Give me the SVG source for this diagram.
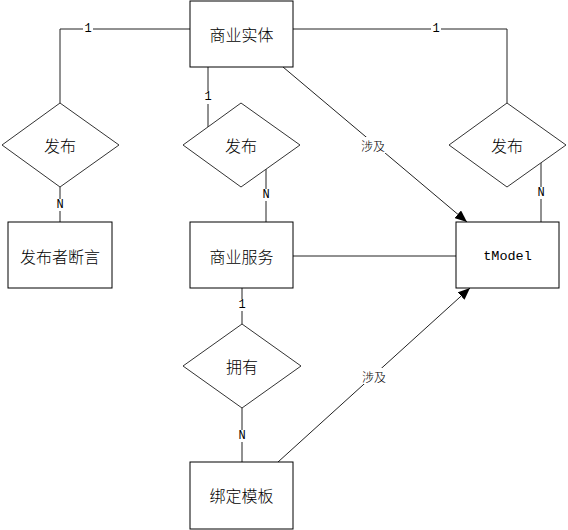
<svg xmlns="http://www.w3.org/2000/svg" width="568" height="530" viewBox="0 0 568 530">
<style>
.box{fill:#fff;stroke:#000;stroke-width:1}
.dia{fill:#fff;stroke:#333;stroke-width:1}
.ln{fill:none;stroke:#222;stroke-width:1}
.t{font-family:"Noto Sans CJK SC","Liberation Sans",sans-serif;font-size:16px;font-weight:300;text-anchor:middle;dominant-baseline:central;fill:#000}
.el{font-family:"Noto Sans CJK SC","Liberation Sans",sans-serif;font-size:12px;font-weight:300;text-anchor:middle;dominant-baseline:central;fill:#000}
.m{font-family:"Liberation Mono",monospace;font-size:12px;text-anchor:middle;dominant-baseline:central;fill:#000}
.bg{fill:#fff}
</style>
<defs>
<marker id="arr" markerWidth="12" markerHeight="10" refX="12" refY="5" orient="auto" markerUnits="userSpaceOnUse">
<path d="M0,0 L12,5 L0,10 z" fill="#000"/>
</marker>
</defs>
<rect width="568" height="530" fill="#fff"/>
<g id="connectors">
<polyline class="ln" points="190,29 60,29 60,103"/>
<rect class="bg" x="83" y="23" width="10" height="12"/>
<text class="m" x="88" y="29">1</text>
<polyline class="ln" points="293,29 507,29 507,103"/>
<rect class="bg" x="431" y="23" width="10" height="12"/>
<text class="m" x="436" y="29">1</text>
<line class="ln" x1="208" y1="67" x2="208" y2="127"/>
<rect class="bg" x="203" y="91" width="10" height="13"/>
<text class="m" x="208" y="97">1</text>
<line class="ln" x1="266" y1="169" x2="266" y2="222"/>
<rect class="bg" x="261" y="189" width="10" height="12"/>
<text class="m" x="266" y="195">N</text>
<line class="ln" x1="541" y1="162" x2="541" y2="222"/>
<rect class="bg" x="536" y="187" width="10" height="12"/>
<text class="m" x="541" y="193">N</text>
<line class="ln" x1="60" y1="187" x2="60" y2="222"/>
<rect class="bg" x="55" y="199" width="10" height="12"/>
<text class="m" x="60" y="205">N</text>
<line class="ln" x1="293" y1="256" x2="456" y2="256"/>
<line class="ln" x1="242" y1="288" x2="242" y2="324"/>
<rect class="bg" x="237" y="299" width="10" height="12"/>
<text class="m" x="242" y="305">1</text>
<line class="ln" x1="242" y1="408" x2="242" y2="462"/>
<rect class="bg" x="237" y="430" width="10" height="12"/>
<text class="m" x="242" y="436">N</text>
<line class="ln" x1="283" y1="67" x2="467" y2="222" marker-end="url(#arr)"/>
<rect class="bg" x="359" y="137" width="28" height="16"/>
<text class="el" x="373" y="145">涉及</text>
<line class="ln" x1="278" y1="462" x2="470" y2="288" marker-end="url(#arr)"/>
<rect class="bg" x="360" y="368" width="28" height="16"/>
<text class="el" x="374" y="376">涉及</text>
</g>
<g id="entity-business">
<rect class="box" x="190" y="1" width="103" height="66"/>
<text class="t" x="241.5" y="34">商业实体</text>
</g>
<g id="rel-publish-left">
<polygon class="dia" points="60,103 119,145 60,187 2,145"/>
<text class="t" x="60" y="145">发布</text>
</g>
<g id="rel-publish-mid">
<polygon class="dia" points="241,103 300,145 241,187 183,145"/>
<text class="t" x="241" y="145">发布</text>
</g>
<g id="rel-publish-right">
<polygon class="dia" points="507,103 566,145 507,187 449,145"/>
<text class="t" x="507" y="145">发布</text>
</g>
<g id="entity-assertion">
<rect class="box" x="8" y="222" width="104" height="66"/>
<text class="t" x="60" y="256">发布者断言</text>
</g>
<g id="entity-service">
<rect class="box" x="190" y="222" width="103" height="66"/>
<text class="t" x="241.5" y="256">商业服务</text>
</g>
<g id="entity-tmodel">
<rect class="box" x="456" y="222" width="103" height="66"/>
<text x="507.5" y="256" font-family="Liberation Mono, monospace" font-size="13.5" text-anchor="middle" dominant-baseline="central">tModel</text>
</g>
<g id="rel-own">
<polygon class="dia" points="242,324 301,366 242,408 183,366"/>
<text class="t" x="242" y="366">拥有</text>
</g>
<g id="entity-binding">
<rect class="box" x="190" y="462" width="103" height="67"/>
<text class="t" x="241.5" y="495">绑定模板</text>
</g>
</svg>
